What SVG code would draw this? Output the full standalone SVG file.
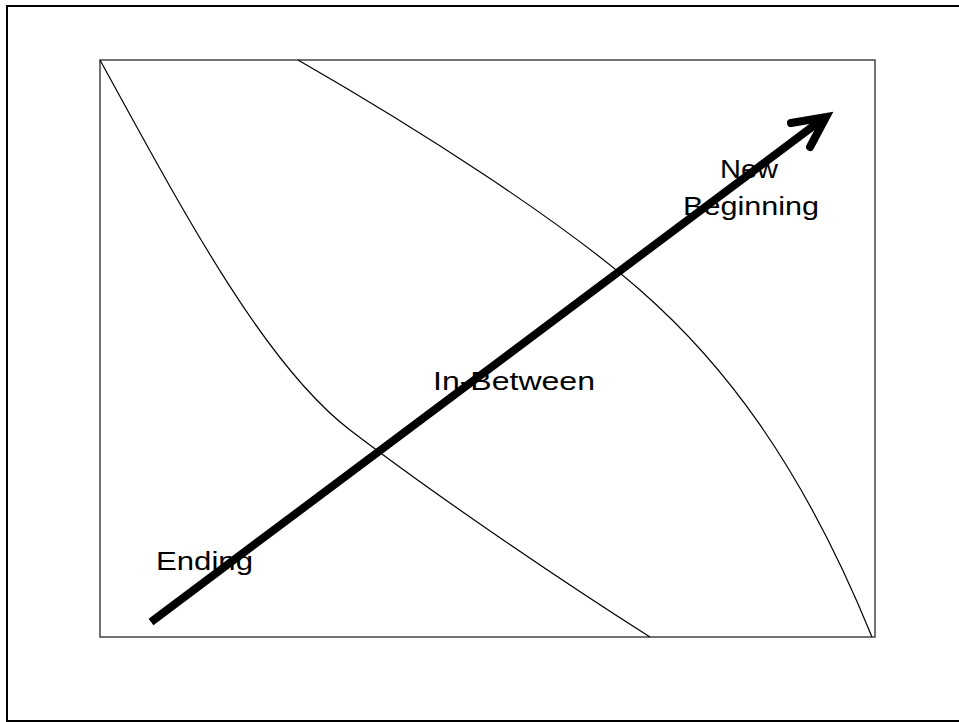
<svg xmlns="http://www.w3.org/2000/svg" width="959" height="722" viewBox="0 0 959 722">
<style>
.lbl{font-family:"Liberation Sans",Arial,sans-serif;font-size:26px;fill:#000}
.curve{fill:none;stroke:#000;stroke-width:1.2}
</style>
<rect x="0" y="0" width="959" height="722" fill="#fff"/>
<g id="frame">
<rect x="7" y="6" width="955" height="715" fill="none" stroke="#000" stroke-width="2"/>
<rect x="100" y="60" width="775" height="577" fill="none" stroke="#444" stroke-width="1.5"/>
</g>
<g id="connectors">
<path id="curve-ending" class="curve" d="M100,60 C185,215 265,365 350,430 S560,580 650,637"/>
<path id="curve-beginning" class="curve" d="M298,60 C420,130 560,220 640,290 S800,460 872,637"/>
<g id="arrow" stroke="#000" stroke-width="8" fill="none">
<line x1="151" y1="622" x2="824" y2="118"/>
<path d="M791,123 L826,117 L810,147" stroke-linecap="round" stroke-linejoin="miter"/>
</g>
</g>
<g id="node-new-beginning">
<text class="lbl" x="720" y="178" textLength="58" lengthAdjust="spacingAndGlyphs">New</text>
<text class="lbl" x="683" y="215" textLength="136" lengthAdjust="spacingAndGlyphs">Beginning</text>
</g>
<g id="node-in-between">
<text class="lbl" x="433" y="390" textLength="162" lengthAdjust="spacingAndGlyphs">In-Between</text>
</g>
<g id="node-ending">
<text class="lbl" x="156" y="570" textLength="97" lengthAdjust="spacingAndGlyphs">Ending</text>
</g>
</svg>
